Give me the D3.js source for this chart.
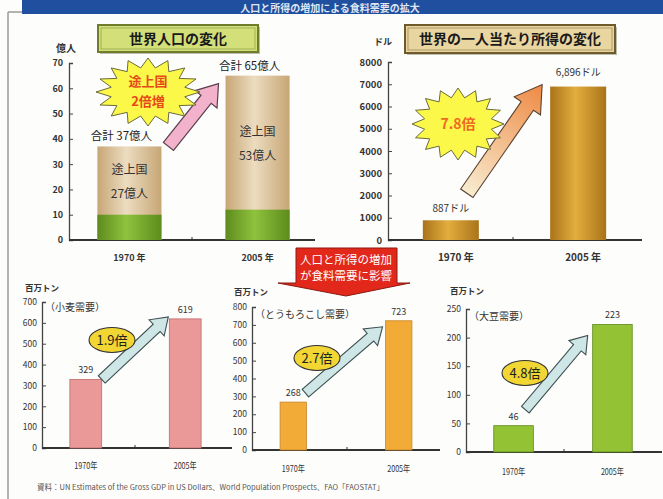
<!DOCTYPE html>
<html>
<head>
<meta charset="utf-8">
<script src="https://cdn.jsdelivr.net/npm/d3@7/dist/d3.min.js"></script>
<style>
  html, body { margin: 0; padding: 0; background: #fdfdfc; }
  svg { display: block; }
  text { font-family: "Noto Sans CJK JP", "Liberation Sans", sans-serif; }
</style>
</head>
<body>
<svg id="chart" width="663" height="499"></svg>
<script>
// ---- data ----
const years = ["1970", "2005"];
const yearLabelsTop = ["1970 年", "2005 年"];
const yearLabelsBottom = ["1970年", "2005年"];

// world population (億人)
const popTotal = [37, 65];
const popDeveloping = [27, 53];
const popDeveloped = [10, 12];
const popTicks = [0, 10, 20, 30, 40, 50, 60, 70];

// income per person (ドル)
const income = [887, 6896];
const incomeLabels = ["887ドル", "6,896ドル"];
const incomeTicks = [0, 1000, 2000, 3000, 4000, 5000, 6000, 7000, 8000];

// grain demand (百万トン)
const wheat = [329, 619];
const corn = [268, 723];
const soy = [46, 223];
const wheatTicks = [0, 100, 200, 300, 400, 500, 600, 700];
const cornTicks = [0, 100, 200, 300, 400, 500, 600, 700, 800];
const soyTicks = [0, 50, 100, 150, 200, 250];

const svg = d3.select("#chart");
const defs = svg.append("defs");

// cylinder-style horizontal gradient
function cylGradient(id, edge, mid) {
  const g = defs.append("linearGradient").attr("id", id)
    .attr("x1", "0%").attr("x2", "100%").attr("y1", "0%").attr("y2", "0%");
  g.append("stop").attr("offset", "0%").attr("stop-color", edge);
  g.append("stop").attr("offset", "45%").attr("stop-color", mid);
  g.append("stop").attr("offset", "100%").attr("stop-color", edge);
}
cylGradient("gTan", "#c7a676", "#ecdcc0");
cylGradient("gGreen", "#5d8c1c", "#8fc23e");
cylGradient("gGold", "#a9741a", "#e3ad3e");

const arrowGrad = defs.append("linearGradient").attr("id", "gArrowIncome")
  .attr("gradientUnits", "userSpaceOnUse");
arrowGrad.append("stop").attr("offset", "0%").attr("stop-color", "#f8ecd0");
arrowGrad.append("stop").attr("offset", "100%").attr("stop-color", "#ee8a44");

// ---- frame & header ----
svg.append("line").attr("x1", 8).attr("x2", 8).attr("y1", 12).attr("y2", 499)
  .attr("stroke", "#9a9a9a").attr("stroke-width", 1.5);
svg.append("line").attr("x1", 8).attr("x2", 663).attr("y1", 12).attr("y2", 12)
  .attr("stroke", "#9a9a9a").attr("stroke-width", 1.5);
svg.append("rect").attr("x", 22).attr("y", 0).attr("width", 641).attr("height", 14)
  .attr("fill", "#1f4f9e");
svg.append("text").attr("x", 330).attr("y", 7.5).attr("text-anchor", "middle")
  .attr("dominant-baseline", "central")
  .attr("font-size", 10).attr("font-weight", "bold").attr("fill", "#dfe6f4")
  .text("人口と所得の増加による食料需要の拡大");

// ---- helpers ----
function starPoints(cx, cy, rx, ry, n, inner) {
  return d3.range(n * 2).map(i => {
    const a = Math.PI * i / n - Math.PI / 2;
    const r = i % 2 === 0 ? 1 : inner;
    return [cx + Math.cos(a) * rx * r, cy + Math.sin(a) * ry * r];
  });
}

function fatArrow(x1, y1, x2, y2, shaft, head, headLen) {
  const dx = x2 - x1, dy = y2 - y1;
  const L = Math.hypot(dx, dy);
  const ux = dx / L, uy = dy / L, px = -uy, py = ux;
  const bx = x2 - ux * headLen, by = y2 - uy * headLen;
  const s = shaft / 2, h = head / 2;
  return [
    [x1 + px * s, y1 + py * s],
    [bx + px * s, by + py * s],
    [bx + px * h, by + py * h],
    [x2, y2],
    [bx - px * h, by - py * h],
    [bx - px * s, by - py * s],
    [x1 - px * s, y1 - py * s]
  ];
}

function titleBox(x, y, w, h, fill, border, label) {
  const g = svg.append("g");
  g.append("rect").attr("x", x + 2).attr("y", y + 2).attr("width", w).attr("height", h)
    .attr("fill", "#8a8a70").attr("opacity", 0.55);
  g.append("rect").attr("x", x).attr("y", y).attr("width", w).attr("height", h)
    .attr("fill", fill).attr("stroke", border).attr("stroke-width", 2);
  g.append("rect").attr("x", x + 3).attr("y", y + 3).attr("width", w - 6).attr("height", h - 6)
    .attr("fill", "none").attr("stroke", border).attr("stroke-width", 0.8).attr("opacity", 0.6);
  g.append("text").attr("x", x + w / 2).attr("y", y + h / 2 + 5).attr("text-anchor", "middle")
    .attr("font-size", 14).attr("font-weight", "bold").attr("fill", "#1a1a1a").text(label);
}

function axisFrame(xAxisX0, xAxisX1, yScale, ticks, tickFont, labelGap, midTick) {
  const g = svg.append("g");
  const y0 = yScale(0);
  const axis = d3.axisLeft(yScale).tickValues(ticks).tickSize(-4).tickPadding(labelGap)
    .tickFormat(d3.format("d"));
  const ga = g.append("g").attr("transform", `translate(${xAxisX0},0)`).call(axis);
  ga.select(".domain").attr("stroke", "#444").attr("stroke-width", 1.3);
  ga.selectAll(".tick line").attr("stroke", "#444");
  ga.selectAll(".tick text").attr("fill", "#333").attr("font-size", tickFont.size)
    .attr("font-weight", tickFont.weight).attr("font-family", tickFont.family);
  g.append("line").attr("x1", xAxisX0).attr("x2", xAxisX1).attr("y1", y0).attr("y2", y0)
    .attr("stroke", "#333").attr("stroke-width", 1.8);
  g.append("line").attr("x1", midTick).attr("x2", midTick).attr("y1", y0).attr("y2", y0 - 3)
    .attr("stroke", "#333");
  return g;
}

// ---- world population ----
(function () {
  const y = d3.scaleLinear().domain([0, 70]).range([240, 63]);
  const x = d3.scaleBand().domain(years).range([82, 305]).paddingInner(0.5).paddingOuter(0.12);
  titleBox(98, 25, 160, 27, "#d3e07a", "#6f7d2a", "世界人口の変化");
  svg.append("text").attr("x", 66).attr("y", 52).attr("text-anchor", "middle")
    .attr("font-size", 10).attr("font-weight", "bold").attr("fill", "#333").text("億人");
  axisFrame(69, 315, y, popTicks,
    { size: 9, weight: "bold", family: "Liberation Sans, Arial, sans-serif" }, 6, 192);

  const bars = svg.append("g");
  bars.selectAll("rect.tot").data(years).join("rect")
    .attr("x", d => x(d)).attr("width", x.bandwidth())
    .attr("y", (d, i) => y(popTotal[i])).attr("height", (d, i) => y(0) - y(popTotal[i]))
    .attr("fill", "url(#gTan)");
  bars.selectAll("rect.dev").data(years).join("rect")
    .attr("x", d => x(d)).attr("width", x.bandwidth())
    .attr("y", (d, i) => y(popDeveloped[i])).attr("height", (d, i) => y(0) - y(popDeveloped[i]))
    .attr("fill", "url(#gGreen)");

  years.forEach((d, i) => {
    const cx = x(d) + x.bandwidth() / 2;
    const midY = y((popDeveloped[i] + popTotal[i]) / 2);
    svg.append("text").attr("x", cx).attr("y", midY - 7).attr("text-anchor", "middle")
      .attr("font-size", 12).attr("fill", "#333").text("途上国");
    svg.append("text").attr("x", cx).attr("y", midY + 17).attr("text-anchor", "middle")
      .attr("font-size", 12).attr("fill", "#333").text(popDeveloping[i] + "億人");
    svg.append("text").attr("x", cx - 8).attr("y", y(popTotal[i]) - 6).attr("text-anchor", "middle")
      .attr("font-size", 11.5).attr("fill", "#222").text("合計 " + popTotal[i] + "億人");
    svg.append("text").attr("x", cx).attr("y", 261).attr("text-anchor", "middle")
      .attr("font-size", 9).attr("font-weight", "bold").attr("fill", "#333")
      .text(yearLabelsTop[i]);
  });

  // growth arrow between bar tops
  const pts = fatArrow(x(years[0]) + x.bandwidth() + 7, y(popTotal[0]),
    x(years[1]) - 7, y(popTotal[1]) + 8, 13, 28, 20);
  svg.append("polygon").attr("points", pts.join(" "))
    .attr("fill", "#f3b2cb").attr("stroke", "#5a4050").attr("stroke-width", 1.2);

  // starburst
  svg.append("polygon").attr("points", starPoints(148, 92, 52, 34, 16, 0.72).join(" "))
    .attr("fill", "#fbf84a").attr("stroke", "#6b6b3a").attr("stroke-width", 1);
  svg.append("text").attr("x", 148).attr("y", 86).attr("text-anchor", "middle")
    .attr("font-size", 13).attr("font-weight", "bold").attr("fill", "#e64a1a").text("途上国");
  svg.append("text").attr("x", 148).attr("y", 106).attr("text-anchor", "middle")
    .attr("font-size", 13).attr("font-weight", "bold").attr("fill", "#e64a1a").text("2倍増");
})();

// ---- income per person ----
(function () {
  const y = d3.scaleLinear().domain([0, 8000]).range([240, 62]);
  const x = d3.scaleBand().domain(years).range([405, 624]).paddingInner(0.56).paddingOuter(0.14);
  titleBox(405, 25, 210, 28, "#e8d5a0", "#6e5a2a", "世界の一人当たり所得の変化");
  svg.append("text").attr("x", 383).attr("y", 45).attr("text-anchor", "middle")
    .attr("font-size", 9).attr("font-weight", "bold").attr("fill", "#333").text("ドル");
  axisFrame(388, 642, y, incomeTicks,
    { size: 9.5, weight: "bold", family: "Liberation Sans, Arial, sans-serif" }, 6, 513);

  svg.append("g").selectAll("rect").data(years).join("rect")
    .attr("x", d => x(d)).attr("width", x.bandwidth())
    .attr("y", (d, i) => y(income[i])).attr("height", (d, i) => y(0) - y(income[i]))
    .attr("fill", "url(#gGold)");

  years.forEach((d, i) => {
    const cx = x(d) + x.bandwidth() / 2;
    svg.append("text").attr("x", cx).attr("y", y(income[i]) - (i === 0 ? 8 : 11))
      .attr("text-anchor", "middle").attr("font-size", 10).attr("fill", "#333")
      .text(incomeLabels[i]);
    svg.append("text").attr("x", cx + 5).attr("y", 261).attr("text-anchor", "middle")
      .attr("font-size", 10).attr("font-weight", "bold").attr("fill", "#333")
      .text(yearLabelsTop[i]);
  });

  const tx = x(years[0]) + x.bandwidth() - 12, ty = y(income[0]) - 27;
  const hx = x(years[1]) - 8, hy = y(income[1]) - 2;
  arrowGrad.attr("x1", tx).attr("y1", ty).attr("x2", hx).attr("y2", hy);
  svg.append("polygon").attr("points", fatArrow(tx, ty, hx, hy, 15, 32, 26).join(" "))
    .attr("fill", "url(#gArrowIncome)").attr("stroke", "#5a4030").attr("stroke-width", 1.1);

  svg.append("polygon").attr("points", starPoints(458, 124, 46, 36, 16, 0.74).join(" "))
    .attr("fill", "#fbf84a").attr("stroke", "#6b6b3a").attr("stroke-width", 1);
  svg.append("text").attr("x", 458).attr("y", 129).attr("text-anchor", "middle")
    .attr("font-size", 14).attr("font-weight", "bold").attr("fill", "#ee6a22").text("7.8倍");
})();

// ---- red banner ----
(function () {
  const pts = [[296, 248], [397, 248], [397, 283], [410, 283], [346, 296], [278, 283], [296, 283]];
  svg.append("polygon").attr("points", pts.join(" "))
    .attr("fill", "#e2281a").attr("stroke", "#8a1a10").attr("stroke-width", 1);
  svg.append("text").attr("x", 346).attr("y", 264).attr("text-anchor", "middle")
    .attr("font-size", 11.5).attr("fill", "#ffffff").text("人口と所得の増加");
  svg.append("text").attr("x", 346).attr("y", 280).attr("text-anchor", "middle")
    .attr("font-size", 11.5).attr("fill", "#ffffff").text("が食料需要に影響");
})();

// ---- grain demand charts ----
const narrow = { size: 8.5, weight: "normal", family: "Liberation Sans Narrow, Liberation Sans, sans-serif" };

function grainChart(cfg) {
  const y = d3.scaleLinear().domain([0, cfg.max]).range([cfg.y0, cfg.y1]);
  const x = d3.scaleBand().domain(years).range(cfg.band).paddingInner(cfg.pad).paddingOuter(0.2);
  svg.append("text").attr("x", cfg.unitX).attr("y", cfg.unitY)
    .attr("font-size", 8.5).attr("font-weight", "bold").attr("fill", "#333").text("百万トン");
  axisFrame(cfg.axisX, cfg.axisEnd, y, cfg.ticks, narrow, 5, cfg.mid);
  svg.append("text").attr("x", cfg.axisX + 3).attr("y", cfg.catY)
    .attr("font-size", 10).attr("fill", "#333").text(cfg.category);

  svg.append("g").selectAll("rect").data(years).join("rect")
    .attr("x", d => x(d)).attr("width", x.bandwidth())
    .attr("y", (d, i) => y(cfg.values[i])).attr("height", (d, i) => y(0) - y(cfg.values[i]))
    .attr("fill", cfg.fill).attr("stroke", cfg.stroke).attr("stroke-width", 0.8);

  years.forEach((d, i) => {
    const cx = x(d) + x.bandwidth() / 2;
    svg.append("text").attr("x", cx).attr("y", y(cfg.values[i]) - 6).attr("text-anchor", "middle")
      .attr("font-size", 9).attr("font-family", narrow.family).attr("fill", "#333")
      .text(cfg.values[i]);
    svg.append("text").attr("x", cx).attr("y", cfg.yearY).attr("text-anchor", "middle")
      .attr("font-size", 9).attr("font-family", "Noto Sans CJK JP").attr("fill", "#333")
      .attr("transform", `translate(${cx},0) scale(0.8,1) translate(${-cx},0)`)
      .text(yearLabelsBottom[i]);
  });

  const a = cfg.arrow;
  const pts = fatArrow(x(years[0]) + x.bandwidth() + a[0], y(cfg.values[0]) + a[1],
    x(years[1]) + a[2], y(cfg.values[1]) + a[3], 10, 22, 16);
  svg.append("polygon").attr("points", pts.join(" "))
    .attr("fill", "#cfe6e6").attr("stroke", "#3d4f50").attr("stroke-width", 1.1);

  svg.append("ellipse").attr("cx", cfg.badge[0]).attr("cy", cfg.badge[1])
    .attr("rx", 23).attr("ry", 12.5)
    .attr("fill", "#f2d634").attr("stroke", "#333").attr("stroke-width", 1.1);
  svg.append("text").attr("x", cfg.badge[0]).attr("y", cfg.badge[1] + 5).attr("text-anchor", "middle")
    .attr("font-size", 13).attr("fill", "#222").text(cfg.ratio);
}

grainChart({
  values: wheat, ticks: wheatTicks, max: 700, category: "（小麦需要）", ratio: "1.9倍",
  y0: 448, y1: 302, axisX: 42, axisEnd: 232, mid: 135, band: [50, 221], pad: 0.68,
  unitX: 25, unitY: 291, catY: 311, yearY: 469,
  fill: "#eb9898", stroke: "#c06a6a", arrow: [0, 0, -1, -2], badge: [112, 340]
});
grainChart({
  values: corn, ticks: cornTicks, max: 800, category: "（とうもろこし需要）", ratio: "2.7倍",
  y0: 450, y1: 307, axisX: 252, axisEnd: 440, mid: 347, band: [259, 433], pad: 0.75,
  unitX: 234, unitY: 295, catY: 318, yearY: 472,
  fill: "#f1ab36", stroke: "#c8862a", arrow: [-1, -9, -3, 6], badge: [317, 358]
});
grainChart({
  values: soy, ticks: soyTicks, max: 250, category: "（大豆需要）", ratio: "4.8倍",
  y0: 452, y1: 309, axisX: 466, axisEnd: 662, mid: 564, band: [474, 652], pad: 0.6,
  unitX: 450, unitY: 294, catY: 320, yearY: 475,
  fill: "#93c234", stroke: "#5e8a1a", arrow: [-8, -16, -5, 11], badge: [525, 373]
});

// ---- source note ----
svg.append("text").attr("x", 37).attr("y", 490)
  .attr("font-size", 7.5).attr("font-family", "Liberation Serif, serif").attr("fill", "#555")
  .text("資料：UN Estimates of the Gross GDP in US Dollars、World Population Prospects、FAO「FAOSTAT」");
</script>
</body>
</html>
